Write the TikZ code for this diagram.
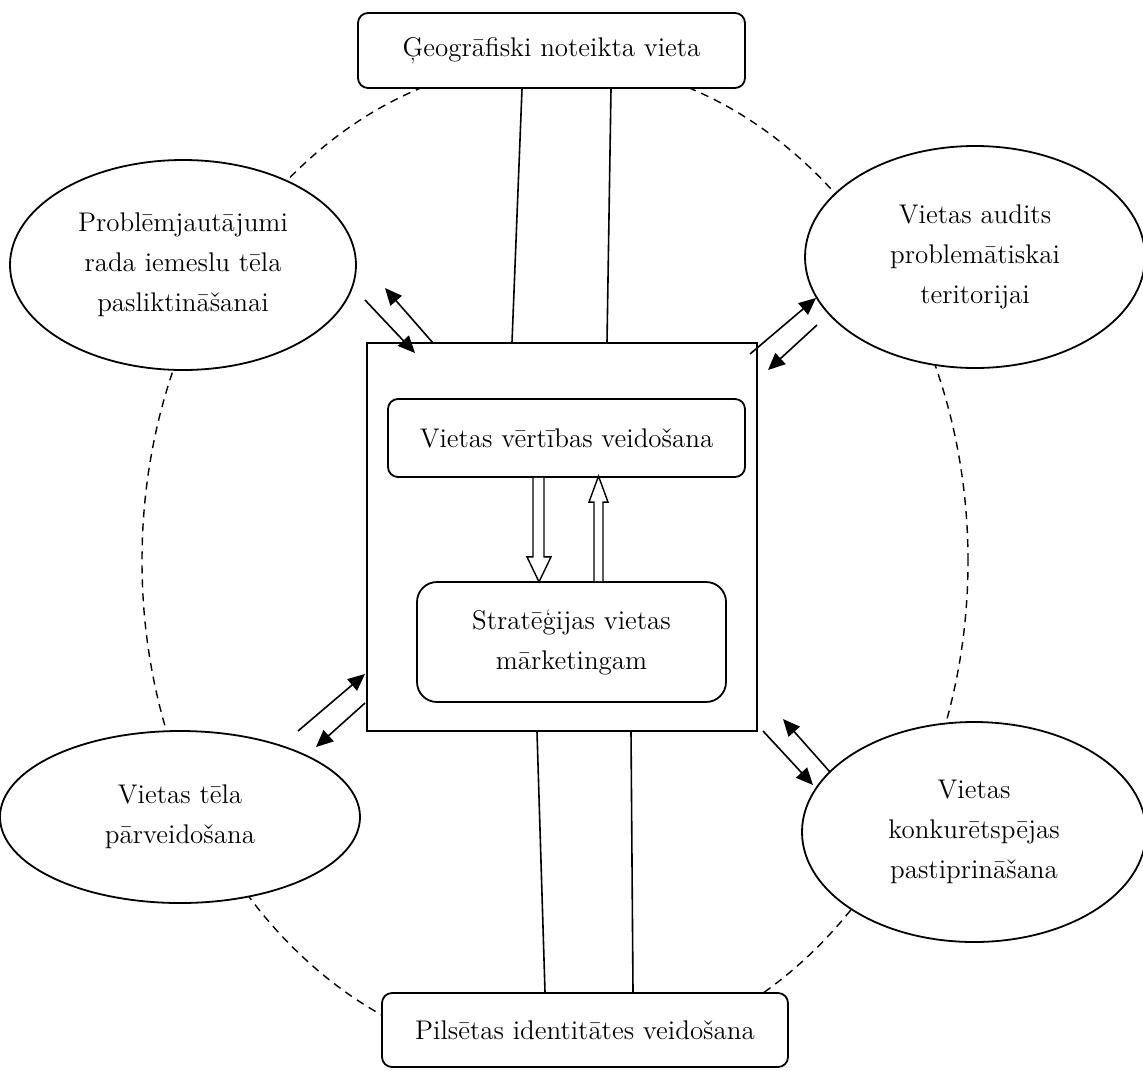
\documentclass[tikz,border=0pt]{standalone}
\usetikzlibrary{arrows.meta,calc,shapes.geometric}
\begin{document}
\begin{tikzpicture}[x=0.5pt,y=-0.5pt,
  every node/.style={font=\fontsize{13.5}{20}\selectfont, align=center, inner sep=0pt},
  rbox/.style={draw, line width=0.9pt, rounded corners=5pt, fill=white},
  oval/.style={draw, ellipse, line width=0.9pt, fill=white},
  link/.style={line width=0.8pt},
  arr/.style={line width=0.8pt, -{Triangle[length=8.5pt,width=7.5pt]}},
  ring/.style={line width=0.7pt, dash pattern=on 4pt off 3pt},
  hollow/.style={line width=0.7pt, fill=white}]
\useasboundingbox (0,0) rectangle (1143,1070);
% dashed ring behind everything
\draw[ring] (555,561) ellipse [x radius=206.5pt, y radius=250pt];

% nodes
\node[rbox, minimum width=193.5pt, minimum height=37.5pt] (geo) at (551.5,50.5) {Ģeogrāfiski noteikta vieta};
\node[rbox, minimum width=203pt, minimum height=37pt] (pil) at (585,1030) {Pilsētas identitātes veidošana};
\node[draw, line width=0.9pt, fill=white, minimum width=195pt, minimum height=194pt] (core) at (562,537) {};
\node[rbox, minimum width=178.5pt, minimum height=39pt] (val) at (566.5,438) {Vietas vērtības veidošana};
\node[rbox, rounded corners=10pt, minimum width=154.5pt, minimum height=60pt] (str) at (571.5,642) {Stratēģijas vietas\\mārketingam};
\node[oval, minimum width=173pt, minimum height=105pt] (prob) at (183,265) {Problēmjautājumi\\rada iemeslu tēla\\pasliktināšanai};
\node[oval, minimum width=170pt, minimum height=111pt] (aud) at (975,257) {Vietas audits\\problemātiskai\\teritorijai};
\node[oval, minimum width=180pt, minimum height=86pt] (tel) at (180,817) {Vietas tēla\\pārveidošana};
\node[oval, minimum width=172pt, minimum height=110pt] (kon) at (974,832) {Vietas\\konkurētspējas\\pastiprināšana};

% solid links between boxes and centre square
\draw[link] ($(geo.south)+(-29.5,0)$) -- ($(core.north)+(-50,0)$);
\draw[link] ($(geo.south)+(59.5,0)$) -- ($(core.north)+(45,0)$);
\draw[link] ($(core.south)+(-25,0)$) -- ($(pil.north)+(-40,0)$);
\draw[link] ($(core.south)+(69,0)$) -- ($(pil.north)+(48,0)$);

% arrow end points
\coordinate (a1s) at (365,300); \coordinate (a1e) at (415,353);
\coordinate (a2s) at (433,343); \coordinate (a2e) at (385,288);
\coordinate (a3s) at (750,354); \coordinate (a3e) at (816,298);
\coordinate (a4s) at (817,325); \coordinate (a4e) at (768,370);
\coordinate (a5s) at (298,731); \coordinate (a5e) at (365,674);
\coordinate (a6s) at (365,703); \coordinate (a6e) at (316,747);
\coordinate (a7s) at (763,731); \coordinate (a7e) at (813,785);
\coordinate (a8s) at (830,772); \coordinate (a8e) at (783,719);
\draw[arr] (a1s) -- (a1e);
\draw[arr] (a2s) -- (a2e);
\draw[arr] (a3s) -- (a3e);
\draw[arr] (a4s) -- (a4e);
\draw[arr] (a5s) -- (a5e);
\draw[arr] (a6s) -- (a6e);
\draw[arr] (a7s) -- (a7e);
\draw[arr] (a8s) -- (a8e);

% hollow block arrows between inner boxes
\draw[hollow] ($(val.south)+(-33.5,0)$) -- ($(val.south)+(-33.5,79)$) -- ($(val.south)+(-39.5,79)$)
  -- ($(val.south)+(-27.5,104)$) -- ($(val.south)+(-15.5,79)$) -- ($(val.south)+(-22.5,79)$)
  -- ($(val.south)+(-22.5,0)$);
\draw[hollow] ($(str.north)+(22.5,0)$) -- ($(str.north)+(22.5,-79)$) -- ($(str.north)+(17.5,-79)$)
  -- ($(str.north)+(27,-105)$) -- ($(str.north)+(36.5,-79)$) -- ($(str.north)+(31.5,-79)$)
  -- ($(str.north)+(31.5,0)$);
\end{tikzpicture}
\end{document}
